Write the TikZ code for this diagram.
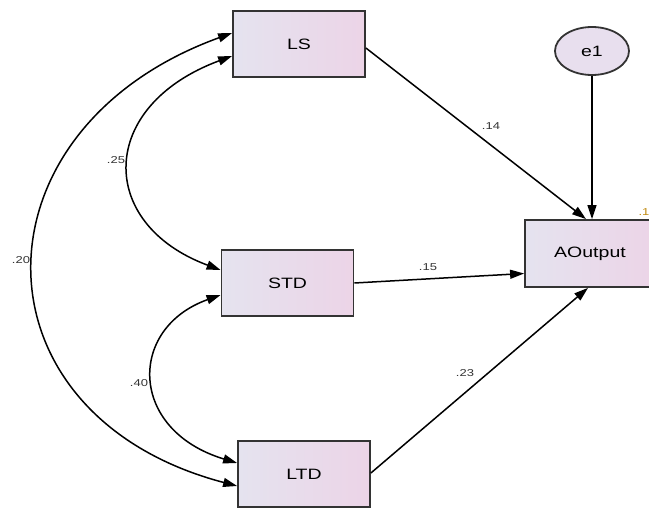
\documentclass[tikz,border=0pt]{standalone}
\usepackage{fontspec}
\setmainfont{Liberation Sans}
\usetikzlibrary{arrows.meta,shapes.geometric}
\newcommand{\wlbl}[1]{\scalebox{1.3}[1]{#1}}
\tikzset{
  var/.style={draw=black!80, line width=1.8pt, minimum width=132pt, minimum height=66pt,
    left color=boxleft, right color=boxright, font=\fontsize{15}{15}\selectfont},
  err/.style={ellipse, draw=black!80, line width=1.8pt, minimum width=74pt, minimum height=48pt,
    inner sep=0pt, fill=errfill, font=\fontsize{15}{15}\selectfont},
  path/.style={-{Triangle[length=14pt,width=9pt]}, line width=1.5pt},
  cov/.style={{Triangle[length=14pt,width=9pt]}-{Triangle[length=14pt,width=9pt]}, line width=1.5pt},
  est/.style={font=\fontsize{10}{10}\selectfont, text=black!80}
}
\definecolor{boxleft}{HTML}{E5E3EF}
\definecolor{boxright}{HTML}{ECD4E7}
\definecolor{errfill}{HTML}{E8DFEE}
\definecolor{rsq}{HTML}{C08A10}
\begin{document}
\begin{tikzpicture}[x=1pt,y=-1pt]
\useasboundingbox (0,0) rectangle (649,508);
% observed variables
\node[var] (LS) at (299,44) {\wlbl{LS}};
\node[var] (STD) at (287.5,283) {\wlbl{STD}};
\node[var] (LTD) at (304,474) {\wlbl{LTD}};
\node[var, minimum width=130pt, minimum height=67pt] (AO) at (590,253.5) {\wlbl{AOutput}};
\node[err] (e1) at (592,51) {\wlbl{e1}};
% regression paths
\draw[path] ([yshift=-4pt]LS.east) -- ([xshift=-4pt]AO.north);
\draw[path] (e1.south) -- (e1.south |- AO.north);
\draw[path] (STD.east) -- ([yshift=-20pt]AO.west);
\draw[path] ([yshift=1pt]LTD.east) -- ([xshift=-2pt]AO.south);
% covariances
\draw[cov] ([yshift=11pt]LS.west) .. controls +(-265,96) and +(-270,-71) .. ([yshift=-12pt]LTD.west);
\draw[cov] ([yshift=-12pt]LS.west) .. controls +(-135,50) and +(-124,-46) .. ([yshift=13pt]STD.west);
\draw[cov] ([yshift=-12pt]STD.west) .. controls +(-93,33) and +(-109,-33) .. ([yshift=11pt]LTD.west);
% estimates
\node[est] (b1) at (491,126) {\wlbl{.14}};
\node[est] (b2) at (428,267) {\wlbl{.15}};
\node[est] (b3) at (465,373) {\wlbl{.23}};
\node[est] (c1) at (116,160) {\wlbl{.25}};
\node[est] (c2) at (21,260) {\wlbl{.20}};
\node[est] (c3) at (139,383) {\wlbl{.40}};
\node[est, text=rsq] (r1) at (644,212) {\wlbl{.1}};
\end{tikzpicture}
\end{document}
